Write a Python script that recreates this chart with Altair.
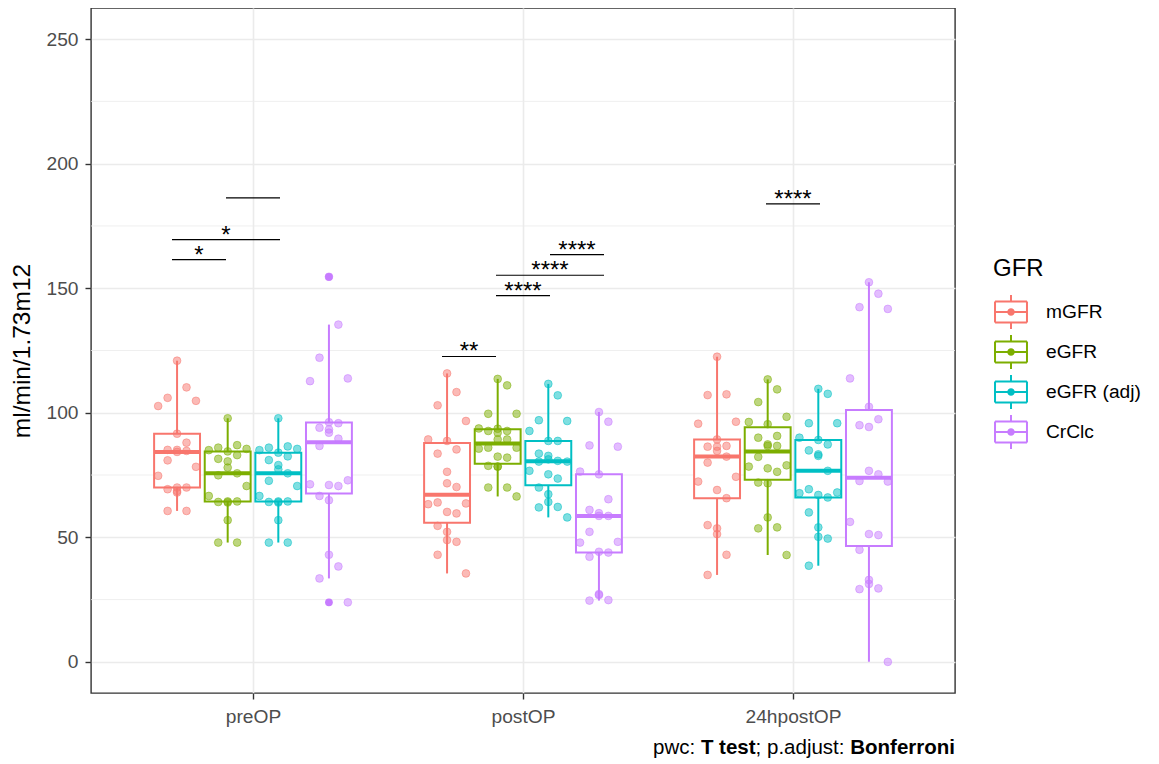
import altair as alt
import numpy as np
import pandas as pd

FONT = "Liberation Sans"

times = ["preOP", "postOP", "24hpostOP"]
groups = ["mGFR", "eGFR", "eGFR (adj)", "CrClc"]
colors = ["#F8766D", "#7CAE00", "#00BFC4", "#C77CFF"]

preOP_mGFR = [120.9, 110.2, 106.0, 104.8, 102.7, 91.6, 88.0, 85.1, 85.1, 84.3, 84.7,
              80.9, 78.3, 74.7, 70.0, 70.0, 69.3, 68.0, 68.6, 60.6, 60.6]
preOP_eGFR = [97.8, 87.0, 86.0, 85.5, 85.0, 84.5, 83.0, 81.5, 80.5, 78.0, 75.7,
              74.9, 70.6, 66.6, 64.4, 64.4, 64.2, 64.0, 56.9, 47.9, 47.9]
preOP_adj = [97.8, 86.5, 86.0, 85.5, 85.0, 84.0, 82.5, 81.0, 79.0, 77.3, 75.7,
             72.7, 70.6, 66.6, 64.4, 64.4, 64.2, 64.0, 56.9, 47.9, 47.9]
preOP_CrClc = [154.6, 135.4, 122.1, 113.8, 112.7, 96.2, 95.8, 94.0, 93.3, 92.0, 89.6,
               86.7, 72.9, 71.3, 71.0, 70.6, 66.6, 64.9, 43.0, 38.3, 33.5, 23.9]

postOP_mGFR = [115.8, 108.3, 103.0, 96.7, 89.3, 88.7, 85.3, 83.6, 76.3, 71.7, 70.2,
               64.0, 63.6, 63.3, 60.2, 59.6, 54.6, 52.2, 48.9, 48.2, 43.0, 35.5]
postOP_eGFR = [113.6, 111.0, 99.6, 99.6, 93.7, 93.6, 92.7, 92.7, 92.0, 89.3, 89.3,
               86.0, 86.0, 85.6, 82.4, 82.0, 78.7, 78.4, 78.4, 70.0, 70.0, 66.4]
postOP_adj = [111.6, 107.0, 97.0, 96.7, 92.7, 88.7, 88.7, 83.6, 82.7, 81.3, 80.7,
              80.4, 80.4, 76.7, 75.3, 73.6, 70.0, 67.3, 64.2, 62.2, 62.0, 58.0]
postOP_CrClc = [100.3, 96.4, 86.9, 86.4, 76.4, 75.3, 65.3, 61.0, 59.7, 58.6, 58.6,
                52.2, 48.2, 47.9, 44.2, 43.9, 42.2, 27.2, 26.8, 24.8, 24.6]

h24_mGFR = [122.5, 107.4, 107.1, 96.4, 95.6, 89.3, 86.7, 86.4, 86.4, 84.7, 82.4,
            80.0, 74.3, 72.4, 69.0, 65.7, 54.9, 53.6, 51.3, 43.0, 34.9]
h24_eGFR = [113.4, 109.4, 104.3, 98.4, 96.3, 95.4, 90.7, 90.0, 87.3, 86.7, 86.7,
            82.3, 78.9, 78.4, 77.7, 76.3, 72.0, 71.7, 58.0, 54.0, 53.6, 42.9]
h24_adj = [109.6, 107.6, 95.8, 95.8, 90.0, 89.1, 87.3, 84.9, 83.3, 82.7, 76.7,
           69.3, 68.0, 67.7, 67.0, 66.0, 60.0, 54.0, 50.2, 49.5, 38.6]
h24_CrClc = [152.4, 147.8, 142.4, 141.7, 113.8, 102.4, 97.4, 95.0, 94.3, 76.7, 75.3,
             72.6, 72.4, 56.2, 51.3, 50.9, 45.0, 32.9, 31.3, 29.5, 29.2, 0.0]

series = {
    ("preOP", "mGFR"): preOP_mGFR, ("preOP", "eGFR"): preOP_eGFR,
    ("preOP", "eGFR (adj)"): preOP_adj, ("preOP", "CrClc"): preOP_CrClc,
    ("postOP", "mGFR"): postOP_mGFR, ("postOP", "eGFR"): postOP_eGFR,
    ("postOP", "eGFR (adj)"): postOP_adj, ("postOP", "CrClc"): postOP_CrClc,
    ("24hpostOP", "mGFR"): h24_mGFR, ("24hpostOP", "eGFR"): h24_eGFR,
    ("24hpostOP", "eGFR (adj)"): h24_adj, ("24hpostOP", "CrClc"): h24_CrClc,
}

# significance brackets (pairwise t tests)
br_time = ["preOP", "preOP", "preOP", "postOP", "postOP", "postOP", "postOP", "24hpostOP"]
br_g1 = ["mGFR", "mGFR", "eGFR", "mGFR", "eGFR", "eGFR", "eGFR (adj)", "eGFR"]
br_g2 = ["eGFR", "eGFR (adj)", "eGFR (adj)", "eGFR", "eGFR (adj)", "CrClc", "CrClc", "eGFR (adj)"]
br_y = [161.5, 169.5, 186.3, 122.6, 147.0, 155.2, 163.5, 183.9]
br_label = ["*", "*", "", "**", "****", "****", "****", "****"]

y_ticks = [0, 50, 100, 150, 200, 250]
y_minor = [25, 75, 125, 175, 225]
y_title = "ml/min/1.73m12"

# ---------- derived tables ----------
DODGE = 0.1875
HALF_BOX = 0.085
jit = [0.0, 0.035, -0.035, 0.07, -0.07, 0.0, 0.035, -0.035, 0.0]

pts, stats, outl = [], [], []
for ti, t in enumerate(times):
    for gi, g in enumerate(groups):
        vals = series[(t, g)]
        arr = np.array(vals)
        xc = ti + 1 + (gi - 1.5) * DODGE
        q1, med, q3 = np.percentile(arr, [25, 50, 75])
        iqr = q3 - q1
        lo = arr[arr >= q1 - 1.5 * iqr].min()
        hi = arr[arr <= q3 + 1.5 * iqr].max()
        stats.append(dict(Time=t, GFR=g, xc=xc, xl=xc - HALF_BOX, xr=xc + HALF_BOX,
                          q1=q1, med=med, q3=q3, lo=lo, hi=hi))
        for k, v in enumerate(vals):
            pts.append(dict(Time=t, GFR=g, value=v, x=xc + jit[k % len(jit)]))
            if v < lo or v > hi:
                outl.append(dict(Time=t, GFR=g, value=v, x=xc))

pts = pd.DataFrame(pts)
stats = pd.DataFrame(stats)
outl = pd.DataFrame(outl)

BR_DODGE = 0.2
br = pd.DataFrame({
    "x1": [times.index(t) + 1 + (groups.index(a) - 1.5) * BR_DODGE for t, a in zip(br_time, br_g1)],
    "x2": [times.index(t) + 1 + (groups.index(b) - 1.5) * BR_DODGE for t, b in zip(br_time, br_g2)],
    "y": br_y,
    "label": br_label,
})
br["xm"] = (br["x1"] + br["x2"]) / 2

minor_df = pd.DataFrame({"v": y_minor})

# ---------- scales / axes ----------
xscale = alt.Scale(domain=[0.4, 3.6], nice=False, zero=False)
yscale = alt.Scale(domain=[-12.5, 262.5], nice=False, zero=False)
cscale = alt.Scale(domain=groups, range=colors)

label_expr = "[" + ",".join("'%s'" % t for t in times) + "][datum.value - 1]"
xaxis = alt.Axis(values=[1, 2, 3], labelExpr=label_expr, grid=True, gridColor="#EBEBEB",
                 gridWidth=1.6, domain=False, tickColor="#333333", tickSize=6, tickWidth=1.4,
                 labelFontSize=19.2, labelColor="#4D4D4D", labelPadding=8, labelFont=FONT)
yaxis = alt.Axis(values=y_ticks, grid=True, gridColor="#EBEBEB", gridWidth=1.6, domain=False,
                 tickColor="#333333", tickSize=6, tickWidth=1.4, labelFontSize=19.2,
                 labelColor="#4D4D4D", labelPadding=7, labelFont=FONT,
                 titleFontSize=24.5, titleColor="black", titleFontWeight="normal",
                 titleFont=FONT, titlePadding=11)


def X(field):
    return alt.X(field, scale=xscale, axis=xaxis, title=None)


def Y(field):
    return alt.Y(field, scale=yscale, axis=yaxis, title=y_title)


SYM = ("M-0.94,-0.62L0.94,-0.62M0.94,-0.62L0.94,0.62M0.94,0.62L-0.94,0.62"
       "M-0.94,0.62L-0.94,-0.62M-0.94,0L0.94,0M0,-1L0,-0.62M0,0.62L0,1"
       "M0.16,0A0.16,0.16,0,1,1,-0.16,0A0.16,0.16,0,1,1,0.16,0Z"
       "M0.07,0A0.07,0.07,0,1,1,-0.07,0A0.07,0.07,0,1,1,0.07,0Z")

legend = alt.Legend(
    title="GFR", orient="none", legendX=902, legendY=249,
    titleFontSize=24, titleFont=FONT, titleFontWeight="normal", titleColor="black",
    titlePadding=13, labelFontSize=19.2, labelFont=FONT, labelColor="black",
    symbolType=SYM, symbolSize=1156, symbolStrokeWidth=2, rowPadding=-2, labelOffset=17,
    padding=0,
)


def col(leg=None):
    return alt.Color("GFR:N", scale=cscale, legend=leg)


minor = alt.Chart(minor_df).mark_rule(color="#EBEBEB", strokeWidth=0.8).encode(
    y=Y("v:Q"))

whisk = alt.Chart(stats).mark_rule(strokeWidth=2).encode(
    x=X("xc:Q"), y=Y("lo:Q"), y2="hi:Q", color=col(legend))

box = alt.Chart(stats).mark_rect(fill="white", strokeWidth=2).encode(
    x=X("xl:Q"), x2="xr:Q", y=Y("q1:Q"), y2="q3:Q",
    stroke=alt.Stroke("GFR:N", scale=cscale, legend=None))

median = alt.Chart(stats).mark_rule(strokeWidth=4).encode(
    x=X("xl:Q"), x2="xr:Q", y=Y("med:Q"), color=col(legend))

outliers = alt.Chart(outl).mark_circle(size=60, opacity=1).encode(
    x=X("x:Q"), y=Y("value:Q"), color=col(legend))

points = alt.Chart(pts).mark_circle(size=60, fillOpacity=0.5, strokeOpacity=0.5,
                                    strokeWidth=1).encode(
    x=X("x:Q"), y=Y("value:Q"), color=col(legend),
    stroke=alt.Stroke("GFR:N", scale=cscale, legend=None))

brackets = alt.Chart(br).mark_rule(color="black", strokeWidth=1.2).encode(
    x=X("x1:Q"), x2="x2:Q", y=Y("y:Q"))

stars = alt.Chart(br).mark_text(fontSize=24, font=FONT, color="black",
                                baseline="alphabetic", dy=3).encode(
    x=X("xm:Q"), y=Y("y:Q"), text="label:N")


def cap(txt, xpos, bold):
    return alt.Chart(pd.DataFrame({"t": [txt]})).mark_text(
        align="left", baseline="alphabetic", fontSize=20.5, font=FONT, color="black",
        fontWeight="bold" if bold else "normal").encode(
        x=alt.value(xpos), y=alt.value(746), text="t:N")


caption = [cap("pwc:", 562.1, False), cap("T test", 609.9, True),
           cap("; p.adjust:", 664.6, False), cap("Bonferroni", 759.2, True)]

chart = alt.layer(minor, whisk, box, median, outliers, points, brackets, stars,
                  *caption).properties(
    width=864, height=685, background="white",
    padding={"left": 1, "top": 0, "right": 5, "bottom": 5},
).configure_view(stroke="#333333", strokeWidth=1.4)

chart.save("out.html", embed_options={"renderer": "svg", "actions": False})
